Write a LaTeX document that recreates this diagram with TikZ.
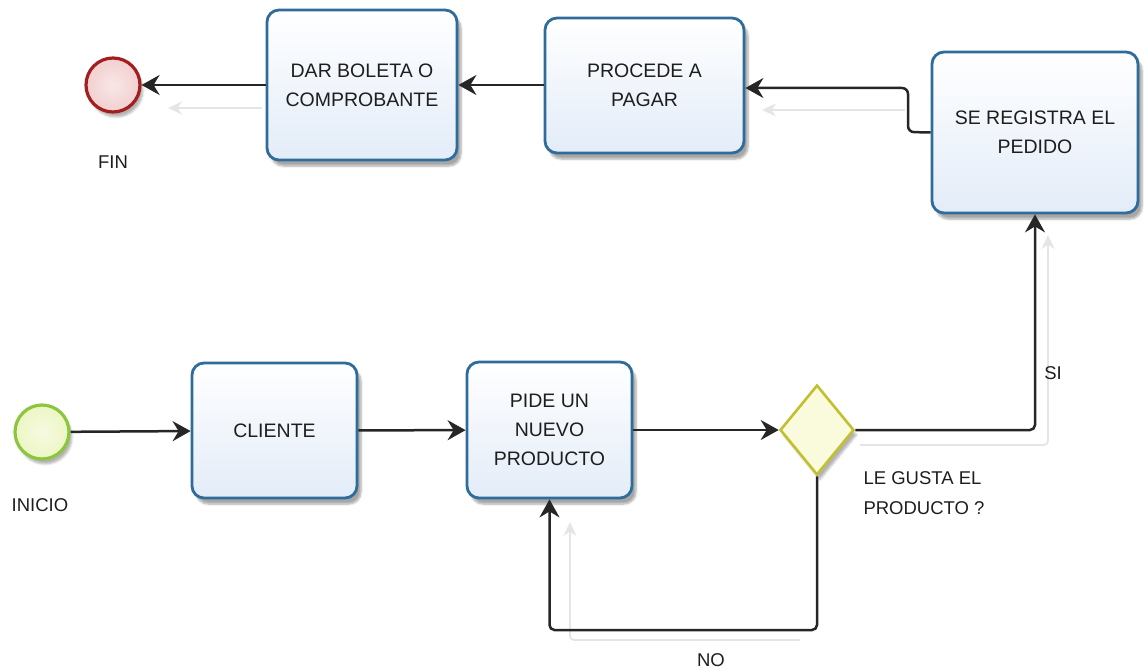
\documentclass[tikz,border=0pt]{standalone}
\usepackage{fontspec}
\setmainfont{Liberation Sans}
\usetikzlibrary{arrows.meta,shapes.geometric,shadows.blur}
\definecolor{taskline}{HTML}{2E6C9C}
\definecolor{taskfill}{HTML}{E3ECF8}
\definecolor{endline}{HTML}{A31F1F}
\definecolor{endfill}{HTML}{F2CFCF}
\definecolor{startline}{HTML}{8CC63E}
\definecolor{startfill}{HTML}{EDF6C4}
\definecolor{gateline}{HTML}{C2C02E}
\definecolor{gatefill}{HTML}{FAFADC}
\definecolor{txt}{HTML}{1E1E1E}
\begin{document}
\begin{tikzpicture}[x=1pt,y=-1pt,
  task/.style={rectangle,rounded corners=12pt,draw=taskline,line width=2.8pt,
    top color=white,bottom color=taskfill,align=center,text=txt,
    font=\fontsize{19.5}{29}\selectfont,
    blur shadow={shadow xshift=4pt,shadow yshift=-6pt,shadow blur steps=6,shadow opacity=35}},
  event/.style={circle,minimum size=54pt,inner sep=0pt,line width=3.2pt,
    blur shadow={shadow xshift=3pt,shadow yshift=-5pt,shadow blur steps=5,shadow opacity=30}},
  gate/.style={diamond,minimum width=74pt,minimum height=90pt,inner sep=0pt,
    draw=gateline,line width=2.6pt,fill=gatefill,
    blur shadow={shadow xshift=3pt,shadow yshift=-5pt,shadow blur steps=5,shadow opacity=30}},
  lbl/.style={text=txt,font=\fontsize{18.5}{30}\selectfont,align=left},
  flow/.style={draw=black!85,line width=2.5pt,-{Stealth[length=18pt,width=20pt,inset=6pt]}},
  ghost/.style={draw=black!10,line width=1.8pt,-{Stealth[length=14pt,width=13pt]}}]
\useasboundingbox (0,0) rectangle (1148,671);

% faint trace lines behind the connectors
\coordinate (g1a) at (262,108); \coordinate (g1b) at (168,108);
\coordinate (g2a) at (905,110); \coordinate (g2b) at (762,110);
\coordinate (g3a) at (800,640); \coordinate (g3b) at (570,640); \coordinate (g3c) at (570,522);
\coordinate (g4a) at (860,445); \coordinate (g4b) at (1048,445); \coordinate (g4c) at (1048,235);
\draw[ghost] (g1a) -- (g1b);
\draw[ghost] (g2a) -- (g2b);
\draw[ghost,rounded corners=4pt] (g3a) -- (g3b) -- (g3c);
\draw[ghost,rounded corners=4pt] (g4a) -- (g4b) -- (g4c);

% events
\node[event,draw=endline,inner color=endfill!50,outer color=endfill] (fin) at (113,85) {};
\node[event,draw=startline,inner color=startfill!50,outer color=startfill] (ini) at (42,432) {};
\node[lbl] (finl) at (113,162) {FIN};
\node[lbl] (inil) at (40,505) {INICIO};

% tasks
\node[task,minimum width=190pt,minimum height=150pt] (dar) at (362,85) {DAR BOLETA O\\COMPROBANTE};
\node[task,minimum width=199pt,minimum height=135pt] (proc) at (644.5,85.5) {PROCEDE A\\PAGAR};
\node[task,minimum width=206pt,minimum height=161pt] (reg) at (1035,132.5) {SE REGISTRA EL\\PEDIDO};
\node[task,minimum width=165pt,minimum height=135pt] (cli) at (274.5,430.5) {CLIENTE};
\node[task,minimum width=165pt,minimum height=136pt] (pide) at (549.5,430) {PIDE UN\\NUEVO\\PRODUCTO};

% gateway
\node[gate] (dia) at (817,430) {};
\node[lbl,anchor=north west] (dial) at (860,468) {LE GUSTA EL\\PRODUCTO ?};

% sequence flows
\draw[flow] (ini) -- (cli);
\draw[flow] (cli) -- (pide);
\draw[flow] (pide) -- (dia);
\draw[flow,rounded corners=5pt] (dia.east) -| (reg.south);
\node[lbl] (si) at (1053,373) {SI};
\coordinate (nocorner) at (817,630);
\draw[flow,rounded corners=5pt] (dia.south) -- (nocorner) -| (pide.south);
\node[lbl] (no) at (711,660) {NO};
\coordinate (j1) at (908,132);
\coordinate (j2) at (908,88);
\draw[flow,rounded corners=6pt] (reg.west) -- (j1) -- (j2) -- (proc.east |- j2);
\draw[flow] (proc.west |- dar.east) -- (dar.east);
\draw[flow] (dar.west) -- (fin);
\end{tikzpicture}
\end{document}
